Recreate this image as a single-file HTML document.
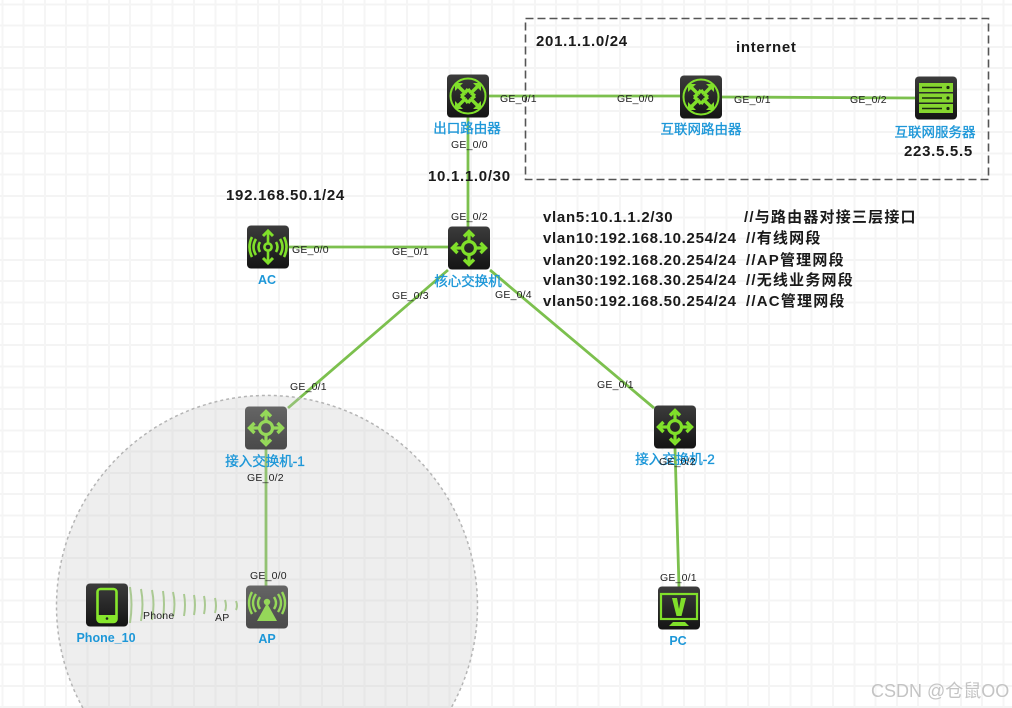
<!DOCTYPE html>
<html><head><meta charset="utf-8"><style>
html,body{margin:0;padding:0;background:#fff;width:1012px;height:708px;overflow:hidden}
#grid{position:absolute;left:-20px;top:-18px;width:1040px;height:730px;
background-image:repeating-linear-gradient(90deg,#f5f5f5 0,#f5f5f5 2px,transparent 2px,transparent 21.3px),repeating-linear-gradient(180deg,#f4f4f4 0,#f4f4f4 2px,transparent 2px,transparent 21.3px)}
#wrap{position:absolute;left:0;top:0;width:1012px;height:708px;overflow:hidden}
svg{display:block;position:absolute;left:0;top:0}
text{font-family:"Liberation Sans","Noto Sans CJK SC",sans-serif}
.p{font-size:10.5px;fill:#222;letter-spacing:.2px}
.n{font-size:13.5px;fill:#1d97d8;text-anchor:middle;stroke:#1d97d8;stroke-width:.35}
.nb{font-size:12.5px;fill:#1d97d8;text-anchor:middle;font-weight:bold}
.b{font-size:15px;fill:#1a1a1a;font-weight:bold;letter-spacing:.7px}
.c{letter-spacing:1.2px}
.l{stroke:#7cc04e;stroke-width:2.8;fill:none}
</style></head><body>
<div id="wrap"><div id="grid"></div>
<svg width="1012" height="708" viewBox="0 0 1012 708" xmlns="http://www.w3.org/2000/svg">
<defs>
<linearGradient id="bg" x1="0" y1="0" x2="0" y2="1"><stop offset="0" stop-color="#3c3c3c"/><stop offset="1" stop-color="#141414"/></linearGradient>
<g id="box"><rect x="-21" y="-21.5" width="42" height="43" rx="4" fill="url(#bg)"/></g>
<g id="arrows4" stroke="#80e02a" stroke-width="3.2" fill="none">
<circle r="6.5" stroke-width="3.2"/>
<path d="M0-7V-15M0 7V15M-7 0H-15M7 0H15"/>
<path d="M-5-11.5L0-16.5L5-11.5M-5 11.5L0 16.5L5 11.5M-11.5-5L-16.5 0L-11.5 5M11.5-5L16.5 0L11.5 5" stroke-width="3.4"/>
</g>
<g id="sw"><use href="#box"/><use href="#arrows4"/></g>
<g id="rt"><use href="#box"/><circle r="17.5" fill="none" stroke="#80e02a" stroke-width="2"/>
<path d="M-10-10L-3-3M10-10L3-3M-10 10L-3 3M10 10L3 3M-3-3L-7 0M-3-3L0-7M3-3L7 0M3-3L0-7M-3 3L-7 0M-3 3L0 7M3 3L7 0M3 3L0 7" stroke="#80e02a" stroke-width="3.4" fill="none"/>
<path d="M-13-13H-5L-13-5ZM13-13H5L13-5ZM-13 13H-5L-13 5ZM13 13H5L13 5Z" fill="#80e02a"/></g>
</defs>

<rect x="525.5" y="18.5" width="463" height="161" fill="none" stroke="#555" stroke-width="1.6" stroke-dasharray="8 4"/>

<path class="l" d="M489 96H680M722 97L915 98M468 117V227M289 247H448M448 270L288 408M490 270L654 408M266 449V586M675 448L679 587"/>
<g stroke="#9ecb7c" stroke-width="2" fill="none">
<path d="M130 587Q133 604 130 623M141 589Q144 604 141 621M152 590Q155 604 152 620M163 591Q165 604 163 618M173 592Q176 604 173 617M184 594Q186 605 184 616M194 595Q196 605 194 615M204 596Q206 605 204 614M215 598Q217 606 215 613M225 600Q227 606 225 611M236 601Q238 606 236 610"/>
</g>

<!-- nodes -->
<use href="#rt" x="468" y="96"/>
<use href="#rt" x="701" y="97"/>
<g transform="translate(936,98)"><use href="#box"/>
<g fill="#86d62f"><rect x="-17" y="-15" width="34" height="9" /><rect x="-17" y="-4.5" width="34" height="9"/><rect x="-17" y="6" width="34" height="9"/></g>
<path d="M-14-10.5H6M-14 0H6M-14 10.5H6" stroke="#1c2a10" stroke-width="1.6"/>
<circle cx="12" cy="-10.5" r="1.6" fill="#1c2a10"/><circle cx="12" cy="0" r="1.6" fill="#1c2a10"/><circle cx="12" cy="10.5" r="1.6" fill="#1c2a10"/></g>
<g transform="translate(268,247)"><use href="#box"/>
<g stroke="#80e02a" stroke-width="2.6" fill="none"><circle r="3.6"/><path d="M0-4V-15M0 4V15"/><path d="M-5-11L0-16L5-11M-5 11L0 16L5 11" stroke-width="3"/>
<path d="M-8-5Q-11 0-8 5M-12-8Q-17 0-12 8M-16-10Q-21 0-16 10M8-5Q11 0 8 5M12-8Q17 0 12 8M16-10Q21 0 16 10"/></g></g>
<use href="#sw" x="469" y="248"/>
<use href="#sw" x="266" y="428"/>
<use href="#sw" x="675" y="427"/>
<g transform="translate(679,608)"><use href="#box"/>
<rect x="-18" y="-14" width="36" height="25" fill="none" stroke="#80e02a" stroke-width="2.2"/>
<path d="M-7-10H-2L0 1L2-10H7L2.5 8H-2.5Z" fill="#80e02a"/><path d="M-10 18H10L6 14H-6Z" fill="#80e02a"/></g>
<g transform="translate(267,607)"><use href="#box"/>
<g stroke="#80e02a" stroke-width="2.4" fill="none"><path d="M-7-10Q-11-4-7 2M-11-13Q-17-4-11 5M-15-15Q-21-4-15 7M7-10Q11-4 7 2M11-13Q17-4 11 5M15-15Q21-4 15 7"/></g>
<circle cy="-5" r="3.2" fill="#80e02a"/><path d="M0-4L-10 14H10Z" fill="#80e02a"/></g>

<path d="M82.9 708A210.5 210.5 0 1 1 451.1 708Z" fill="#c8c8c8" fill-opacity=".3"/>
<path d="M82.9 708A210.5 210.5 0 1 1 451.1 708" fill="none" stroke="#b5b5b5" stroke-width="1.5" stroke-dasharray="3 3"/>

<g transform="translate(107,605)"><use href="#box"/>
<rect x="-9.5" y="-16" width="19" height="33" rx="3" fill="none" stroke="#86e62c" stroke-width="2.6"/>
<path d="M-9.5 10H9.5V14Q9.5 17 6.5 17H-6.5Q-9.5 17-9.5 14Z" fill="#86e62c"/><circle cy="13.5" r="1.3" fill="#222"/></g>

<!-- node labels -->
<text class="n" x="467" y="133">出口路由器</text>
<text class="n" x="701" y="134">互联网路由器</text>
<text class="n" x="935" y="137">互联网服务器</text>
<text class="nb" x="267" y="284">AC</text>
<text class="n" x="468" y="286">核心交换机</text>
<text class="n" x="265" y="466">接入交换机-1</text>
<text class="n" x="675" y="464">接入交换机-2</text>
<text class="nb" x="678" y="645">PC</text>
<text class="nb" x="267" y="643">AP</text>
<text class="nb" x="106" y="642">Phone_10</text>

<!-- port labels -->
<g class="p">
<text x="500" y="102">GE_0/1</text><text x="617" y="102">GE_0/0</text>
<text x="734" y="103">GE_0/1</text><text x="850" y="103">GE_0/2</text>
<text x="451" y="148">GE_0/0</text><text x="451" y="220">GE_0/2</text>
<text x="292" y="253">GE_0/0</text><text x="392" y="255">GE_0/1</text>
<text x="392" y="299">GE_0/3</text><text x="495" y="298">GE_0/4</text>
<text x="290" y="390">GE_0/1</text><text x="597" y="388">GE_0/1</text>
<text x="247" y="481">GE_0/2</text><text x="659" y="465">GE_0/2</text>
<text x="250" y="579">GE_0/0</text><text x="660" y="581">GE_0/1</text>
<text x="143" y="619">Phone</text><text x="215" y="621">AP</text>
</g>

<!-- notes -->
<g class="b">
<text x="536" y="46">201.1.1.0/24</text>
<text x="736" y="52">internet</text>
<text x="904" y="156">223.5.5.5</text>
<text x="428" y="181">10.1.1.0/30</text>
<text x="226" y="200">192.168.50.1/24</text>
<text x="543" y="222">vlan5:10.1.1.2/30</text><text class="c" x="744" y="222">//与路由器对接三层接口</text>
<text x="543" y="243">vlan10:192.168.10.254/24</text><text class="c" x="746" y="243">//有线网段</text>
<text x="543" y="265">vlan20:192.168.20.254/24</text><text class="c" x="746" y="265">//AP管理网段</text>
<text x="543" y="285">vlan30:192.168.30.254/24</text><text class="c" x="746" y="285">//无线业务网段</text>
<text x="543" y="306">vlan50:192.168.50.254/24</text><text class="c" x="746" y="306">//AC管理网段</text>
</g>
<text x="871" y="697" font-size="18" fill="#c4c4c4">CSDN @仓鼠OO</text>
</svg></div>
</body></html>
